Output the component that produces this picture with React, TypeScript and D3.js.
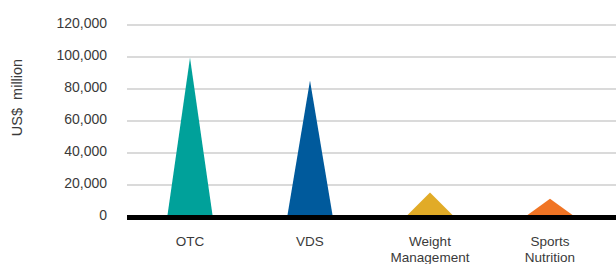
import React from "react";
import * as d3 from "d3";

const categories: string[][] = [["OTC"], ["VDS"], ["Weight", "Management"], ["Sports", "Nutrition"]];
const values: number[] = [99500, 85300, 15300, 11400];
const colors: string[] = ["#00a19a", "#005a9c", "#e1ab27", "#f07424"];
const yTicks: number[] = [0, 20000, 40000, 60000, 80000, 100000, 120000];

const W = 616;
const H = 264;
const plotLeft = 127;
const plotRight = 616;
const y0 = 217;
const yTop = 25;

export default function App() {
  const x = d3.scaleBand<number>().domain(d3.range(categories.length)).range([130, 610]).padding(0);
  const y = d3.scaleLinear().domain([0, 120000]).range([y0, yTop]);
  const fmt = d3.format(",");
  const half = x.step() * 0.1875;
  const baseTop = y0 - 2;

  return (
    <svg width={W} height={H} style={{ position: "absolute", left: 0, top: 0 }} fontFamily="'Liberation Sans', Arial, sans-serif">
      {yTicks.map((t) => (
        <g key={t}>
          {t !== 0 && <line x1={plotLeft} x2={plotRight} y1={y(t)} y2={y(t)} stroke="#b5b5b5" strokeWidth={1.2} />}
          <text x={107} y={y(t) + 2.5} textAnchor="end" fontSize={14} fill="#3a3a3a">
            {fmt(t)}
          </text>
        </g>
      ))}
      {values.map((v, i) => {
        const cx = (x(i) as number) + x.bandwidth() / 2;
        const p = d3.path();
        p.moveTo(cx - half, baseTop);
        p.lineTo(cx, y(v));
        p.lineTo(cx + half, baseTop);
        p.closePath();
        return <path key={i} d={p.toString()} fill={colors[i]} />;
      })}
      <rect x={plotLeft} y={y0 - 2} width={plotRight - plotLeft} height={5} fill="#000" />
      {categories.map((lines, i) => {
        const cx = (x(i) as number) + x.bandwidth() / 2;
        return (
          <text key={i} x={cx} y={246} textAnchor="middle" fontSize={13.5} fill="#3a3a3a">
            {lines.map((l, j) => (
              <tspan key={j} x={cx} dy={j === 0 ? 0 : 16}>
                {l}
              </tspan>
            ))}
          </text>
        );
      })}
      <text transform="translate(22,97.5) rotate(-90)" textAnchor="middle" fontSize={14.5} fill="#3a3a3a" style={{ whiteSpace: "pre" }}>
        {"US$  million"}
      </text>
    </svg>
  );
}
